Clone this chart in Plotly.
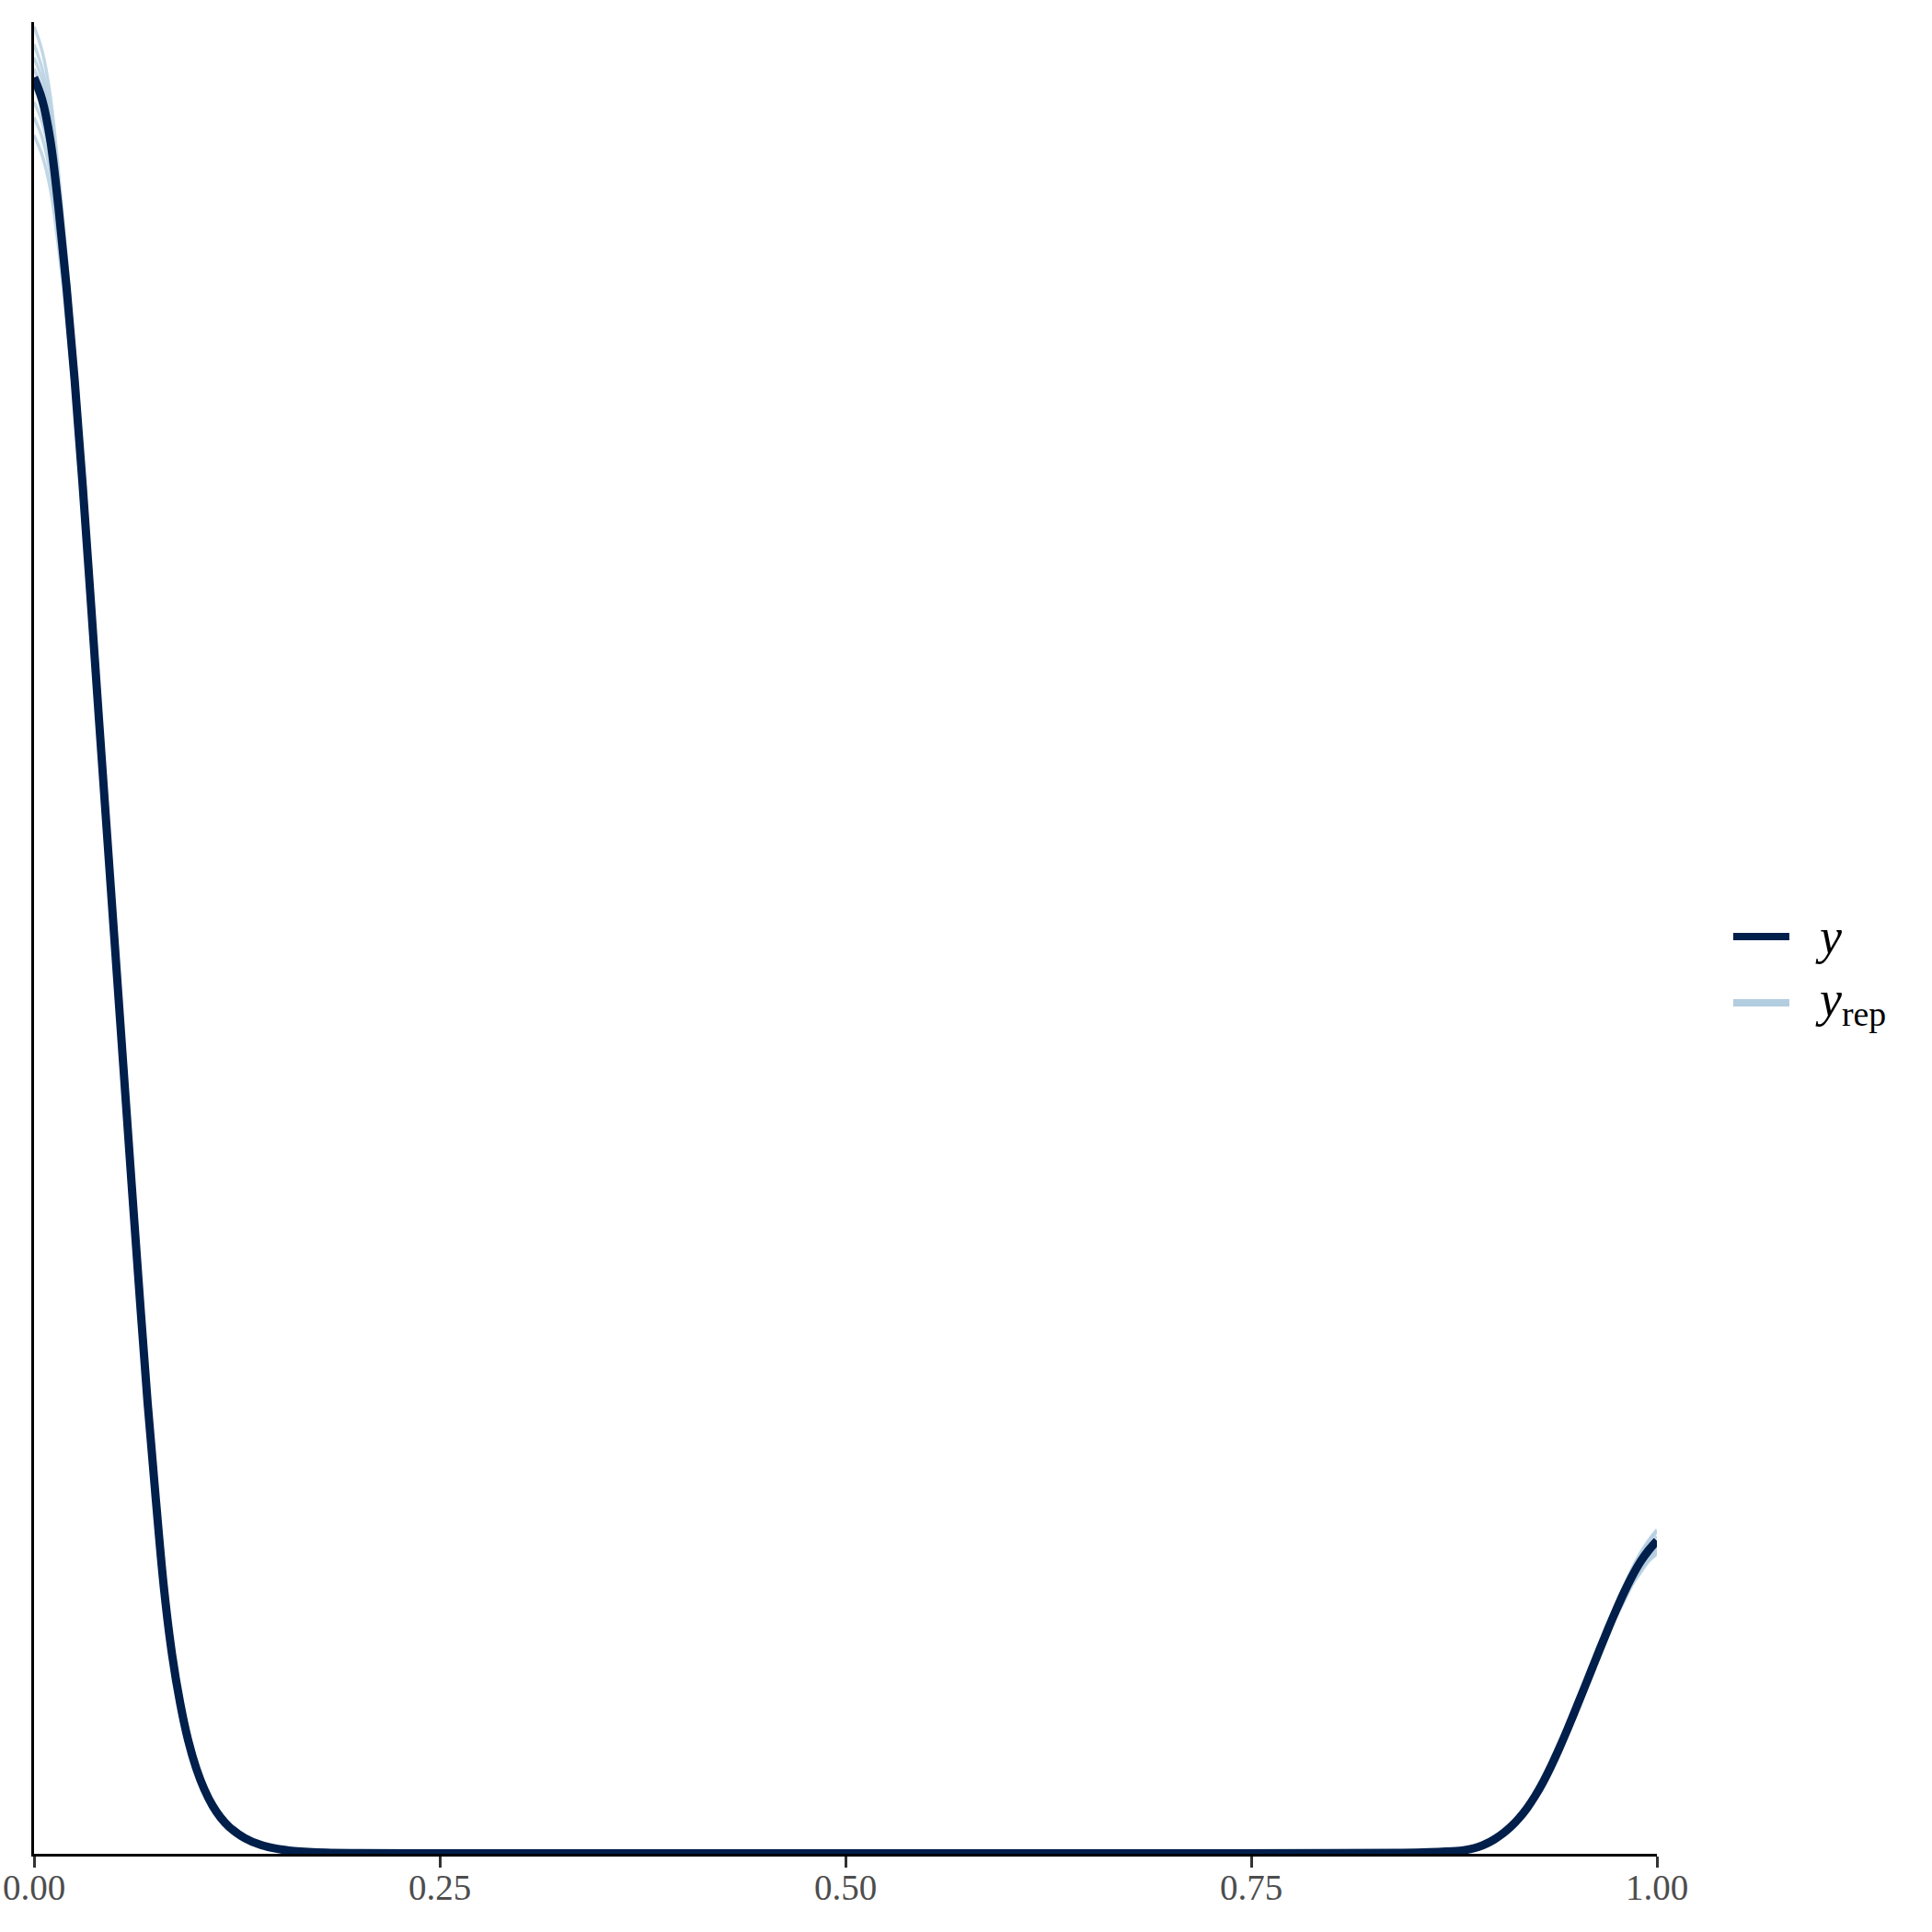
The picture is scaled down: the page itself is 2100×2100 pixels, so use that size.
import plotly.graph_objects as go

# ---------------- data ----------------
x_grid = [0, .005, .01, .015, .02, .025, .03, .035, .04, .045, .05, .055, .06, .065,
          .07, .075, .08, .085, .09, .095, .10, .105, .11, .115, .12, .13, .14, .15,
          .16, .18, .20, .25, .30, .40, .50, .60, .70, .80,
          .84, .86, .87, .88, .885, .89, .895, .90, .905, .91, .915, .92, .925, .93,
          .935, .94, .945, .95, .955, .96, .965, .97, .975, .98, .985, .99, .995, 1.0]

y_obs = [8.00, 7.90, 7.72, 7.42, 7.06, 6.64, 6.16, 5.64, 5.11, 4.59, 4.07, 3.55, 3.03, 2.52,
         2.03, 1.60, 1.20, 0.90, 0.68, 0.51, 0.384, 0.289, 0.217, 0.163, 0.123, 0.070, 0.039, 0.022,
         0.013, 0.005, 0.003, 0.002, 0.002, 0.002, 0.002, 0.002, 0.002, 0.003,
         0.004, 0.007, 0.010, 0.015, 0.021, 0.031, 0.046, 0.066, 0.091, 0.122, 0.160, 0.206, 0.261, 0.325,
         0.398, 0.478, 0.563, 0.652, 0.742, 0.834, 0.925, 1.014, 1.100, 1.181, 1.254, 1.317, 1.368, 1.41]

yrep_1 = [8.23, 8.12, 7.92, 7.58, 7.19, 6.73, 6.22, 5.67, 5.12, 4.59, 4.07, 3.55, 3.03, 2.52,
          2.03, 1.60, 1.20, 0.90, 0.68, 0.51, 0.384, 0.289, 0.217, 0.163, 0.123, 0.070, 0.039, 0.022,
          0.013, 0.005, 0.003, 0.002, 0.002, 0.002, 0.002, 0.002, 0.002, 0.003,
          0.004, 0.007, 0.010, 0.015, 0.021, 0.031, 0.046, 0.066, 0.091, 0.122, 0.160, 0.206, 0.261, 0.325,
          0.398, 0.478, 0.563, 0.652, 0.742, 0.844, 0.935, 1.034, 1.120, 1.201, 1.284, 1.347, 1.408, 1.45]
yrep_2 = [8.15, 8.04, 7.85, 7.53, 7.14, 6.70, 6.20, 5.66, 5.12, 4.59, 4.07, 3.55, 3.03, 2.52,
          2.03, 1.60, 1.20, 0.90, 0.68, 0.51, 0.384, 0.289, 0.217, 0.163, 0.123, 0.070, 0.039, 0.022,
          0.013, 0.005, 0.003, 0.002, 0.002, 0.002, 0.002, 0.002, 0.002, 0.003,
          0.004, 0.007, 0.010, 0.015, 0.021, 0.031, 0.046, 0.066, 0.091, 0.122, 0.160, 0.206, 0.261, 0.325,
          0.398, 0.478, 0.563, 0.652, 0.742, 0.824, 0.915, 1.004, 1.080, 1.161, 1.234, 1.297, 1.338, 1.38]
yrep_3 = [8.09, 7.99, 7.80, 7.48, 7.11, 6.68, 6.18, 5.65, 5.11, 4.59, 4.07, 3.55, 3.03, 2.52,
          2.03, 1.60, 1.20, 0.90, 0.68, 0.51, 0.384, 0.289, 0.217, 0.163, 0.123, 0.070, 0.039, 0.022,
          0.013, 0.005, 0.003, 0.002, 0.002, 0.002, 0.002, 0.002, 0.002, 0.003,
          0.004, 0.007, 0.010, 0.015, 0.021, 0.031, 0.046, 0.066, 0.091, 0.122, 0.160, 0.206, 0.261, 0.325,
          0.398, 0.478, 0.563, 0.652, 0.742, 0.834, 0.935, 1.024, 1.110, 1.191, 1.264, 1.337, 1.388, 1.43]
yrep_4 = [8.04, 7.94, 7.75, 7.45, 7.08, 6.66, 6.17, 5.64, 5.11, 4.59, 4.07, 3.55, 3.03, 2.52,
          2.03, 1.60, 1.20, 0.90, 0.68, 0.51, 0.384, 0.289, 0.217, 0.163, 0.123, 0.070, 0.039, 0.022,
          0.013, 0.005, 0.003, 0.002, 0.002, 0.002, 0.002, 0.002, 0.002, 0.003,
          0.004, 0.007, 0.010, 0.015, 0.021, 0.031, 0.046, 0.066, 0.091, 0.122, 0.160, 0.206, 0.261, 0.325,
          0.398, 0.478, 0.563, 0.652, 0.742, 0.824, 0.905, 0.994, 1.070, 1.141, 1.214, 1.267, 1.318, 1.35]
yrep_5 = [7.96, 7.86, 7.69, 7.39, 7.04, 6.62, 6.15, 5.64, 5.11, 4.59, 4.07, 3.55, 3.03, 2.52,
          2.03, 1.60, 1.20, 0.90, 0.68, 0.51, 0.384, 0.289, 0.217, 0.163, 0.123, 0.070, 0.039, 0.022,
          0.013, 0.005, 0.003, 0.002, 0.002, 0.002, 0.002, 0.002, 0.002, 0.003,
          0.004, 0.007, 0.010, 0.015, 0.021, 0.031, 0.046, 0.066, 0.091, 0.122, 0.160, 0.206, 0.261, 0.325,
          0.398, 0.478, 0.563, 0.652, 0.742, 0.844, 0.940, 1.034, 1.125, 1.211, 1.289, 1.357, 1.413, 1.46]
yrep_6 = [7.89, 7.80, 7.63, 7.34, 7.00, 6.60, 6.13, 5.63, 5.11, 4.59, 4.07, 3.55, 3.03, 2.52,
          2.03, 1.60, 1.20, 0.90, 0.68, 0.51, 0.384, 0.289, 0.217, 0.163, 0.123, 0.070, 0.039, 0.022,
          0.013, 0.005, 0.003, 0.002, 0.002, 0.002, 0.002, 0.002, 0.002, 0.003,
          0.004, 0.007, 0.010, 0.015, 0.021, 0.031, 0.046, 0.066, 0.091, 0.122, 0.160, 0.206, 0.261, 0.325,
          0.398, 0.478, 0.563, 0.652, 0.742, 0.824, 0.915, 0.994, 1.080, 1.161, 1.224, 1.287, 1.328, 1.37]
yrep_7 = [7.82, 7.73, 7.57, 7.29, 6.96, 6.57, 6.11, 5.62, 5.10, 4.59, 4.07, 3.55, 3.03, 2.52,
          2.03, 1.60, 1.20, 0.90, 0.68, 0.51, 0.384, 0.289, 0.217, 0.163, 0.123, 0.070, 0.039, 0.022,
          0.013, 0.005, 0.003, 0.002, 0.002, 0.002, 0.002, 0.002, 0.002, 0.003,
          0.004, 0.007, 0.010, 0.015, 0.021, 0.031, 0.046, 0.066, 0.091, 0.122, 0.160, 0.206, 0.261, 0.325,
          0.398, 0.478, 0.563, 0.652, 0.742, 0.834, 0.925, 1.014, 1.100, 1.181, 1.254, 1.317, 1.368, 1.41]
yrep_8 = [7.74, 7.65, 7.50, 7.24, 6.92, 6.54, 6.09, 5.61, 5.10, 4.59, 4.07, 3.55, 3.03, 2.52,
          2.03, 1.60, 1.20, 0.90, 0.68, 0.51, 0.384, 0.289, 0.217, 0.163, 0.123, 0.070, 0.039, 0.022,
          0.013, 0.005, 0.003, 0.002, 0.002, 0.002, 0.002, 0.002, 0.002, 0.003,
          0.004, 0.007, 0.010, 0.015, 0.021, 0.031, 0.046, 0.066, 0.091, 0.122, 0.160, 0.206, 0.261, 0.325,
          0.398, 0.478, 0.563, 0.652, 0.742, 0.824, 0.910, 0.994, 1.075, 1.151, 1.219, 1.277, 1.323, 1.36]

yrep_draws = [yrep_1, yrep_2, yrep_3, yrep_4, yrep_5, yrep_6, yrep_7, yrep_8]

x_tickvals = [0, 0.25, 0.5, 0.75, 1.0]
x_ticktext = ["0.00", "0.25", "0.50", "0.75", "1.00"]
legend_labels = ["<i>y</i>", "<i>y</i><sub>rep</sub>"]

# ---------------- styling ----------------
DARK = "#011f4b"
LIGHT = "#b3cde0"
LIGHT_LINE = "rgba(179,205,224,0.8)"
SERIF = "Liberation Serif"

fig = go.Figure()
for yr in yrep_draws:
    fig.add_trace(go.Scatter(
        x=x_grid, y=yr, mode="lines",
        line=dict(color=LIGHT_LINE, width=3.5, shape="spline", smoothing=1.0),
        showlegend=False, hoverinfo="skip"))

fig.add_trace(go.Scatter(
    x=x_grid, y=y_obs, mode="lines",
    line=dict(color=DARK, width=9, shape="spline", smoothing=1.0),
    showlegend=False))

# manual legend (long line keys as in the reference)
legend_rows = [(0.5008, DARK), (0.4646, LIGHT)]
for (yy, col), lab in zip(legend_rows, legend_labels):
    fig.add_shape(type="line", xref="paper", yref="paper",
                  x0=1.047, x1=1.0816, y0=yy, y1=yy,
                  line=dict(color=col, width=8))
    fig.add_annotation(xref="paper", yref="paper", x=1.0963, y=yy,
                       text=lab, showarrow=False, xanchor="left", yanchor="middle",
                       font=dict(family=SERIF, size=54, color="black"))

fig.update_layout(
    width=2100, height=2100,
    margin=dict(l=37, r=299, t=24, b=85, autoexpand=False),
    paper_bgcolor="white", plot_bgcolor="white",
    showlegend=False,
    font=dict(family=SERIF),
)
fig.update_xaxes(
    range=[0, 1], tickvals=x_tickvals, ticktext=x_ticktext,
    showline=True, linecolor="black", linewidth=3,
    ticks="outside", ticklen=12, tickwidth=3, tickcolor="#333333",
    ticklabelstandoff=-12, ticklabeloverflow="allow", automargin=False,
    tickfont=dict(family=SERIF, size=39, color="#4d4d4d"),
    showgrid=False, zeroline=False,
)
fig.update_yaxes(
    range=[0, 8.25], showline=True, linecolor="black", linewidth=3,
    showticklabels=False, ticks="", showgrid=False, zeroline=False, automargin=False,
)

# remove the page's default body margin so the figure starts at the window corner
fig.write_html("out.html", config={"displayModeBar": False},
               post_script="document.body.style.margin='0px';")
